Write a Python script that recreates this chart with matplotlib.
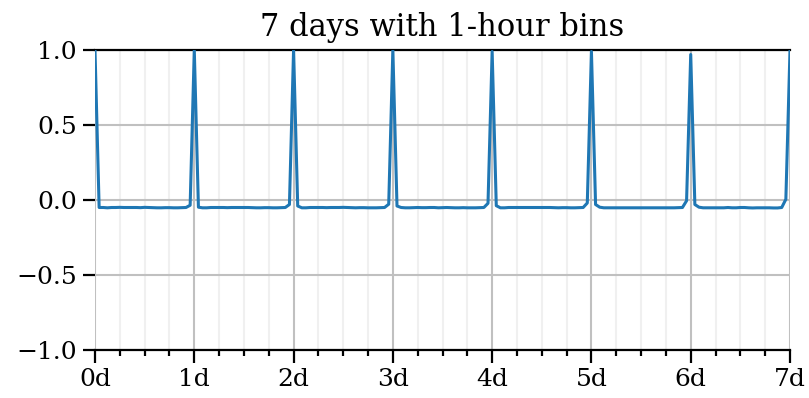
import matplotlib
matplotlib.use("Agg")
import matplotlib.pyplot as plt
import numpy as np
from matplotlib.ticker import MultipleLocator

plt.rcParams["font.family"] = ["DejaVu Serif"]

# autocorrelation per hour lag, one list per day (lag 0..23 within day)
day0 = [1.00, -0.050, -0.050, -0.052, -0.050, -0.050, -0.049, -0.050, -0.050, -0.050, -0.050, -0.051,
        -0.049, -0.050, -0.051, -0.052, -0.052, -0.051, -0.051, -0.052, -0.052, -0.051, -0.050, -0.035]
day1 = [1.00, -0.048, -0.052, -0.052, -0.050, -0.050, -0.050, -0.050, -0.051, -0.050, -0.050, -0.050,
        -0.050, -0.050, -0.051, -0.052, -0.052, -0.051, -0.051, -0.052, -0.052, -0.051, -0.050, -0.030]
day2 = [1.00, -0.040, -0.052, -0.052, -0.050, -0.050, -0.050, -0.050, -0.051, -0.050, -0.050, -0.050,
        -0.049, -0.050, -0.051, -0.052, -0.051, -0.051, -0.052, -0.052, -0.052, -0.051, -0.050, -0.028]
day3 = [1.00, -0.040, -0.050, -0.052, -0.052, -0.051, -0.050, -0.051, -0.051, -0.050, -0.050, -0.052,
        -0.051, -0.050, -0.051, -0.052, -0.052, -0.051, -0.052, -0.052, -0.052, -0.051, -0.050, -0.022]
day4 = [0.99, -0.038, -0.052, -0.052, -0.050, -0.050, -0.050, -0.050, -0.050, -0.050, -0.050, -0.050,
        -0.050, -0.050, -0.050, -0.051, -0.052, -0.051, -0.051, -0.052, -0.052, -0.051, -0.050, -0.020]
day5 = [0.99, -0.030, -0.048, -0.052, -0.052, -0.052, -0.052, -0.052, -0.052, -0.052, -0.052, -0.052,
        -0.052, -0.052, -0.052, -0.052, -0.052, -0.052, -0.052, -0.052, -0.052, -0.051, -0.050, -0.005]
day6 = [0.97, -0.030, -0.048, -0.052, -0.052, -0.052, -0.052, -0.052, -0.052, -0.050, -0.052, -0.052,
        -0.050, -0.050, -0.052, -0.053, -0.052, -0.052, -0.052, -0.052, -0.053, -0.053, -0.050, 0.005]
day7 = [1.00]

acf = np.array(day0 + day1 + day2 + day3 + day4 + day5 + day6 + day7)
lag_hours = np.arange(len(acf))

x_ticks = [0, 24, 48, 72, 96, 120, 144, 168]
x_labels = ["0d", "1d", "2d", "3d", "4d", "5d", "6d", "7d"]
y_ticks = [-1.0, -0.5, 0.0, 0.5, 1.0]

fig = plt.figure(figsize=(8.09, 3.98), dpi=100)
ax = fig.add_axes([95 / 809, 48 / 398, 695 / 809, 300 / 398])

ax.plot(lag_hours, acf, color="#1f77b4", lw=2.2, zorder=3)

ax.set_xlim(0, 168)
ax.set_ylim(-1, 1)
ax.set_xticks(x_ticks)
ax.set_xticklabels(x_labels)
ax.xaxis.set_minor_locator(MultipleLocator(6))
ax.set_yticks(y_ticks)
ax.set_yticklabels([f"{v:.1f}".replace("-", "\u2212") for v in y_ticks])

ax.grid(True, which="major", axis="both", color="#c0c0c0", lw=1.5, zorder=0)
ax.grid(True, which="minor", axis="x", color="#f0f0f0", lw=1.5, zorder=0)

for side in ["left", "right"]:
    ax.spines[side].set_visible(False)
for side in ["top", "bottom"]:
    ax.spines[side].set_linewidth(1.6)
    ax.spines[side].set_color("black")

ax.tick_params(axis="both", which="major", length=9, width=1.6, labelsize=18, direction="out", pad=4)
ax.tick_params(axis="x", which="minor", length=4, width=1.6)

ax.set_title("7 days with 1-hour bins", fontsize=22, pad=10)

fig.savefig("out.png", dpi=100)
